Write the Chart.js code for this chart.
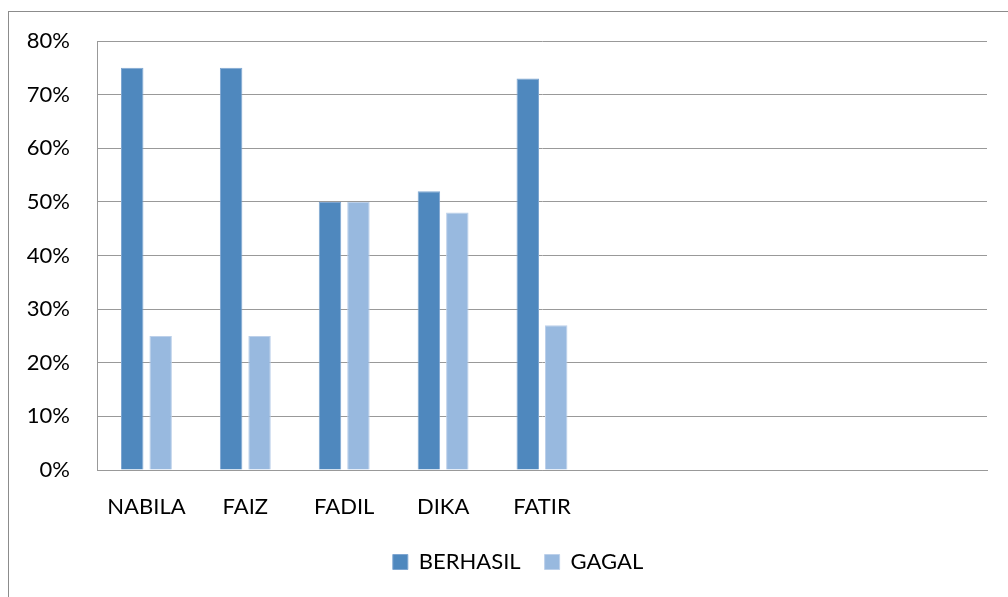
<!DOCTYPE html>
<html>
<head>
<meta charset="utf-8">
<script src="https://cdn.jsdelivr.net/npm/chart.js@4/dist/chart.umd.min.js"></script>
<style>
  html, body { margin: 0; padding: 0; background: #fff; overflow: hidden; }
  #frame { position: absolute; left: 8px; top: 11px; border-left: 1px solid #8c8c8c; border-top: 1px solid #8c8c8c; width: 1016px; height: 600px; }
  #wrap { position: relative; width: 1016px; height: 600px; }
</style>
</head>
<body>
<div id="frame"><div id="wrap"><canvas id="c"></canvas></div></div>
<script>
// ---- data ----
const categories = ['NABILA', 'FAIZ', 'FADIL', 'DIKA', 'FATIR'];
const emptyCategorySlots = 4;
const berhasil = [75, 75, 50, 52, 73];
const gagal = [25, 25, 50, 48, 27];
const yTicks = [0, 10, 20, 30, 40, 50, 60, 70, 80];
const seriesNames = ['BERHASIL', 'GAGAL'];

const labels = categories.concat(new Array(emptyCategorySlots).fill(''));
const FONT = 'Lato';

// the legend is centred on the whole chart frame, not only on the plot side
const legendShift = {
  id: 'legendShift',
  afterLayout(chart) {
    if (chart.legend) { chart.legend.left += 20; chart.legend.right += 20; }
  }
};

new Chart(document.getElementById('c'), {
  type: 'bar',
  data: {
    labels: labels,
    datasets: [
      { label: seriesNames[0], data: berhasil, backgroundColor: '#4F88BE', borderColor: '#7FA6D1', borderWidth: 1,
        categoryPercentage: 0.575, barPercentage: 0.79 },
      { label: seriesNames[1], data: gagal, backgroundColor: '#98B9DF', borderColor: '#BCD0EA', borderWidth: 1,
        categoryPercentage: 0.575, barPercentage: 0.79 }
    ]
  },
  plugins: [legendShift],
  options: {
    responsive: true,
    maintainAspectRatio: false,
    animation: false,
    layout: { padding: { top: 29, left: 0, right: 38, bottom: 29 } },
    plugins: {
      tooltip: { enabled: false },
      legend: {
        position: 'bottom',
        labels: {
          font: { family: FONT, size: 22 },
          color: '#000',
          boxWidth: 15,
          boxHeight: 15,
          padding: 24
        }
      }
    },
    scales: {
      x: {
        grid: { display: false, drawTicks: false },
        border: { display: true, color: '#999999', width: 1 },
        ticks: { font: { family: FONT, size: 22 }, color: '#000', padding: 24, maxRotation: 0, autoSkip: false },
        afterFit: (s) => { s.height = 57; }
      },
      y: {
        min: 0, max: 80,
        afterBuildTicks: (s) => { s.ticks = yTicks.map(v => ({ value: v })); },
        grid: { color: '#999999', lineWidth: 1, drawTicks: false },
        border: { display: true, color: '#999999', width: 1 },
        ticks: { font: { family: FONT, size: 22 }, color: '#000', padding: 27, callback: (v) => v + '%' },
        afterFit: (s) => { s.width = 88; s.paddingTop = 13; s.paddingBottom = 13; }
      }
    }
  }
});
</script>
</body>
</html>
